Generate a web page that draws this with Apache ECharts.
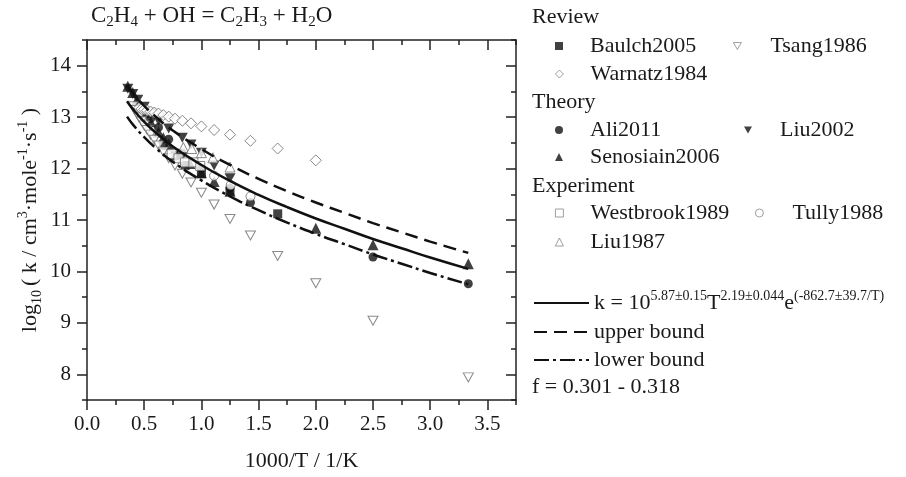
<!DOCTYPE html>
<html><head><meta charset="utf-8">
<script src="https://cdn.jsdelivr.net/npm/echarts@6/dist/echarts.min.js"></script>
<style>html,body{margin:0;padding:0;background:#fff}#c{width:906px;height:477px}</style>
</head><body><div id="c"></div>
<script>
// ---- tick values ----
const xTicks = [0, 0.5, 1, 1.5, 2, 2.5, 3, 3.5];
const yTicks = [8, 9, 10, 11, 12, 13, 14];

// ---- Review ----
const baulchX = [0.667, 0.769, 0.857, 1.0, 1.25, 1.667];
const baulchY = [12.45, 12.25, 12.06, 11.9, 11.56, 11.12];
const tsangX = [0.4, 0.4167, 0.4348, 0.4545, 0.4762, 0.5, 0.5263, 0.5556, 0.5882, 0.625, 0.6667, 0.7143, 0.7692, 0.8333, 0.9091, 1.0, 1.1111, 1.25, 1.4286, 1.6667, 2.0, 2.5, 3.3333];
const tsangY = [13.21, 13.14, 13.07, 13.0, 12.92, 12.84, 12.75, 12.66, 12.56, 12.45, 12.33, 12.2, 12.06, 11.9, 11.73, 11.53, 11.3, 11.02, 10.7, 10.3, 9.77, 9.04, 7.94];
const warnatzX = [0.4545, 0.4762, 0.5, 0.5263, 0.5556, 0.5882, 0.625, 0.6667, 0.7143, 0.7692, 0.8333, 0.9091, 1.0, 1.1111, 1.25, 1.4286, 1.6667, 2.0];
const warnatzY = [13.18, 13.16, 13.15, 13.13, 13.11, 13.09, 13.07, 13.04, 13.01, 12.97, 12.93, 12.88, 12.82, 12.75, 12.66, 12.54, 12.39, 12.16];

// ---- Theory ----
const aliX = [0.5, 0.556, 0.625, 0.714, 0.833, 1.0, 1.25, 1.429, 2.5, 3.333];
const aliY = [13.12, 12.97, 12.8, 12.57, 12.3, 12.0, 11.62, 11.34, 10.28, 9.76];
const liu2002X = [0.357, 0.4, 0.444, 0.5, 0.556, 0.625, 0.714, 0.833, 0.909, 1.0, 1.111, 1.25];
const liu2002Y = [13.55, 13.45, 13.34, 13.2, 13.07, 12.93, 12.78, 12.6, 12.47, 12.31, 12.06, 11.81];
const senosiainX = [0.357, 0.4, 0.435, 0.476, 0.5, 0.556, 0.625, 0.667, 0.714, 0.8, 0.9, 1.0, 1.111, 1.25, 2.0, 2.5, 3.333];
const senosiainY = [13.6, 13.48, 13.33, 13.18, 13.09, 12.91, 12.71, 12.6, 12.48, 12.29, 12.1, 11.92, 11.75, 11.56, 10.84, 10.52, 10.15];

// ---- Experiment ----
const westbrookX = [0.74, 0.8, 0.857, 0.93, 0.99];
const westbrookY = [12.28, 12.2, 12.12, 12.12, 12.05];
const tullyX = [1.111, 1.256, 1.429];
const tullyY = [11.86, 11.68, 11.46];
const liu1987X = [0.842, 0.915, 1.0, 1.1, 1.25];
const liu1987Y = [12.41, 12.39, 12.31, 12.21, 12.03];

// ---- fitted curve and bounds ----
const fitX = [0.35, 0.4, 0.5, 0.6, 0.75, 1.0, 1.25, 1.5, 1.75, 2.0, 2.25, 2.5, 2.75, 3.0, 3.333];
const fitY = [13.31, 13.16, 12.91, 12.70, 12.43, 12.07, 11.76, 11.49, 11.25, 11.03, 10.83, 10.63, 10.45, 10.27, 10.05];
const upperY = [13.62, 13.47, 13.22, 13.01, 12.74, 12.38, 12.07, 11.80, 11.56, 11.34, 11.14, 10.94, 10.76, 10.58, 10.36];
const lowerY = [13.01, 12.86, 12.61, 12.40, 12.13, 11.77, 11.46, 11.19, 10.95, 10.73, 10.53, 10.33, 10.15, 9.97, 9.75];

const FONT = 'Liberation Serif';
const INK = '#1a1a1a';
const OPEN = '#6a6a6a';
const NONE = 'rgba(0,0,0,0)';
const DOWN_TRI = 'path://M0,0L20,0L10,17.3Z';
const zip = (xs, ys) => xs.map((x, i) => [x, ys[i]]);

function scatter(name, xs, ys, symbol, size, filled) {
  return {
    name, type: 'scatter', data: zip(xs, ys), symbol, symbolSize: size,
    itemStyle: filled ? { color: '#111', borderWidth: 0 } : { color: '#fff', borderColor: OPEN, borderWidth: 1 },
    emphasis: { disabled: true }, z: filled ? 2 : 3
  };
}
function curve(name, ys, type) {
  return {
    name, type: 'line', data: zip(fitX, ys), smooth: true, symbol: 'none', showSymbol: false,
    itemStyle: { color: NONE, borderWidth: 0 },
    lineStyle: { color: '#111', width: 2.5, type }, z: 4, emphasis: { disabled: true }
  };
}

const FIT = 'fit', UP = 'upper bound', LOW = 'lower bound';
const series = [
  scatter('Tsang1986', tsangX, tsangY, DOWN_TRI, [10, 9], false),
  scatter('Warnatz1984', warnatzX, warnatzY, 'diamond', 11, false),
  scatter('Baulch2005', baulchX, baulchY, 'rect', 9, true),
  scatter('Ali2011', aliX, aliY, 'circle', 9, true),
  scatter('Liu2002', liu2002X, liu2002Y, DOWN_TRI, [11, 10], true),
  scatter('Senosiain2006', senosiainX, senosiainY, 'triangle', 11, true),
  scatter('Westbrook1989', westbrookX, westbrookY, 'rect', 9, false),
  scatter('Tully1988', tullyX, tullyY, 'circle', 9, false),
  scatter('Liu1987', liu1987X, liu1987Y, 'triangle', 10, false),
  curve(FIT, fitY, 'solid'),
  curve(UP, upperY, [13, 7]),
  curve(LOW, lowerY, [15, 4, 3, 4])
];

// legend layout: marker centre and text start
const markerLegends = [
  { name: 'Baulch2005', cx: 559, cy: 46, tx: 590 },
  { name: 'Tsang1986', cx: 737, cy: 46, tx: 770 },
  { name: 'Warnatz1984', cx: 559, cy: 74, tx: 590 },
  { name: 'Ali2011', cx: 559, cy: 130, tx: 590 },
  { name: 'Liu2002', cx: 748, cy: 130, tx: 780 },
  { name: 'Senosiain2006', cx: 559, cy: 157, tx: 590 },
  { name: 'Westbrook1989', cx: 559, cy: 213, tx: 590 },
  { name: 'Tully1988', cx: 759, cy: 213, tx: 792 },
  { name: 'Liu1987', cx: 559, cy: 242, tx: 590 }
];
const legends = markerLegends.map(l => ({
  data: [l.name],
  left: l.cx - 4, top: l.cy - 11, itemWidth: 8, itemHeight: 8, padding: 0,
  selectedMode: false,
  itemStyle: { borderWidth: 0.8 },
  textStyle: { fontFamily: FONT, fontSize: 22, color: INK, padding: [0, 0, 0, l.tx - (l.cx + 9)] }
}));
const lineText = { fontFamily: FONT, fontSize: 22, color: INK };
const lineLeg = { itemWidth: 55, itemHeight: 14, padding: 0, selectedMode: false, left: 533,
  itemStyle: { color: NONE, borderWidth: 0 } };
legends.push(Object.assign({}, lineLeg, {
  data: [FIT], top: 289,
  formatter: () => '{n|k = 10}{p|5.87±0.15}{n|T}{p|2.19±0.044}{n|e}{p|(-862.7±39.7/T)}',
  textStyle: {
    rich: {
      n: { fontFamily: FONT, fontSize: 22, color: INK, lineHeight: 28, verticalAlign: 'middle' },
      p: { fontFamily: FONT, fontSize: 14, color: INK, lineHeight: 28, verticalAlign: 'top' }
    }
  }
}));
legends.push(Object.assign({}, lineLeg, { data: [UP], top: 321, textStyle: lineText }));
legends.push(Object.assign({}, lineLeg, { data: [LOW], top: 349, textStyle: lineText }));

const headText = { fontFamily: FONT, fontSize: 22, color: INK, fontWeight: 'normal' };
const titles = [
  {
    text: '{n|C}{b|2}{n|H}{b|4}{n| + OH = C}{b|2}{n|H}{b|3}{n| + H}{b|2}{n|O}',
    left: 91, top: 2, padding: 0,
    textStyle: {
      fontWeight: 'normal',
      rich: {
        n: { fontFamily: FONT, fontSize: 23, fontWeight: 'normal', color: INK, lineHeight: 28, verticalAlign: 'middle' },
        b: { fontFamily: FONT, fontSize: 15, fontWeight: 'normal', color: INK, lineHeight: 28, verticalAlign: 'bottom' }
      }
    }
  },
  { text: 'Review', left: 532, top: 6, padding: 0, textStyle: headText },
  { text: 'Theory', left: 532, top: 91, padding: 0, textStyle: headText },
  { text: 'Experiment', left: 532, top: 175, padding: 0, textStyle: headText },
  { text: 'f = 0.301 - 0.318', left: 532, top: 376, padding: 0, textStyle: headText }
];

const AX = { color: '#222', width: 1.5 };
function xAx(pos, major) {
  const o = {
    type: 'value', position: pos, min: 0, max: 3.75, gridIndex: 0,
    splitLine: { show: false },
    axisLine: { show: major, lineStyle: AX, onZero: false },
    axisTick: { show: true, inside: pos === 'top', length: major ? 10 : 5, lineStyle: AX },
    axisLabel: { show: false }
  };
  if (major) {
    o.axisTick.customValues = xTicks;
    o.axisLabel = pos === 'bottom'
      ? { show: true, customValues: xTicks, formatter: v => v.toFixed(1), fontFamily: FONT, fontSize: 21, color: INK, margin: 14 }
      : { show: false };
  } else {
    o.interval = 0.25;
  }
  return o;
}
function yAx(pos, major) {
  const o = {
    type: 'value', position: pos, min: 7.5, max: 14.5, gridIndex: 0,
    splitLine: { show: false },
    axisLine: { show: major, lineStyle: AX, onZero: false },
    axisTick: { show: true, inside: pos === 'right', length: major ? 10 : 5, lineStyle: AX },
    axisLabel: { show: false }
  };
  if (major) {
    o.axisTick.customValues = yTicks;
    o.axisLabel = pos === 'left'
      ? { show: true, customValues: yTicks, fontFamily: FONT, fontSize: 21, color: INK, margin: 16 }
      : { show: false };
  } else {
    o.interval = 0.5;
  }
  return o;
}

const xAxes = [xAx('bottom', true), xAx('bottom', false), xAx('top', true), xAx('top', false)];
xAxes[0].name = '1000/T / 1/K';
xAxes[0].nameLocation = 'middle';
xAxes[0].nameGap = 50;
xAxes[0].nameTextStyle = { fontFamily: FONT, fontSize: 22, color: INK };

const yAxes = [yAx('left', true), yAx('left', false), yAx('right', true), yAx('right', false)];
yAxes[0].name = '{n|log}{b|10}{n|( k / cm}{p|3}{n|·mole}{p|-1}{n|·s}{p|-1}{n| )}';
yAxes[0].nameLocation = 'middle';
yAxes[0].nameGap = 43;
yAxes[0].nameTextStyle = {
  rich: {
    n: { fontFamily: FONT, fontSize: 22, color: INK, lineHeight: 28, verticalAlign: 'middle' },
    b: { fontFamily: FONT, fontSize: 14, color: INK, lineHeight: 28, verticalAlign: 'bottom', padding: [0, 4, 0, 0] },
    p: { fontFamily: FONT, fontSize: 14, color: INK, lineHeight: 28, verticalAlign: 'top' }
  }
};

const chart = echarts.init(document.getElementById('c'), null, { renderer: 'canvas' });
chart.setOption({
  animation: false,
  backgroundColor: '#fff',
  textStyle: { fontFamily: FONT },
  title: titles,
  legend: legends,
  grid: { left: 87, right: 390, top: 40, bottom: 77, containLabel: false },
  xAxis: xAxes,
  yAxis: yAxes,
  series
});
</script>
</body></html>
